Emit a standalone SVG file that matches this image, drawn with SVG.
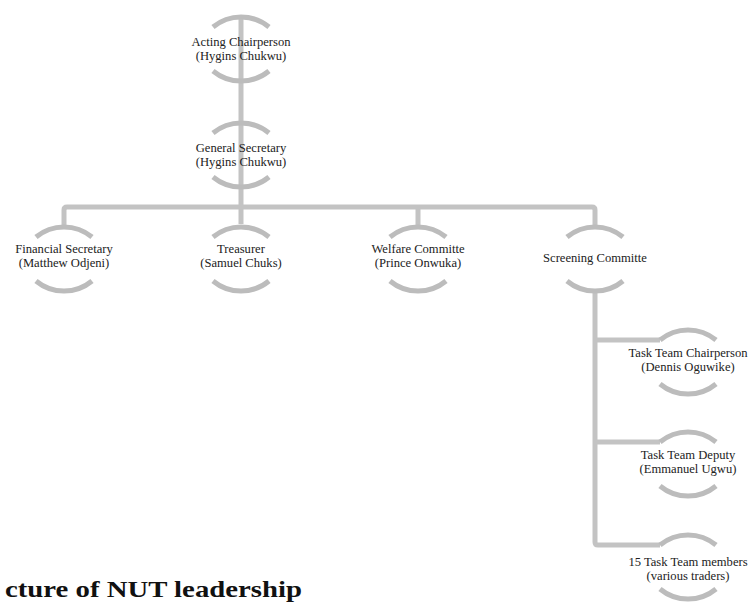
<svg xmlns="http://www.w3.org/2000/svg" width="754" height="603" viewBox="0 0 754 603">
  <defs>
    <style>
      .arc { fill: none; stroke: #bcbcbc; stroke-width: 5; }
      .conn { fill: none; stroke: #c3c3c3; stroke-width: 5; stroke-linejoin: round; }
      .lbl { font-family: "Liberation Serif", "Times New Roman", serif; font-size: 12.6px; fill: #222; text-anchor: middle; }
      .title { font-family: "Liberation Serif", "Times New Roman", serif; font-size: 23px; font-weight: bold; fill: #111; }
    </style>
    <path id="arcTop" d="M-28,-22 A44 44 0 0 1 28,-22"/>
    <path id="arcBot" d="M-28,22 A44 44 0 0 0 28,22"/>
  </defs>
  <rect width="754" height="603" fill="#ffffff"/>

  <g id="connectors">
    <path class="conn" d="M241,15 V224"/>
    <path class="conn" d="M64,228 V210 Q64,207 67,207 H592 Q595,207 595,210 V227"/>
    <path class="conn" d="M418,207 V227"/>
    <path class="conn" d="M595,290 V542 Q595,545 598,545 H660"/>
    <path class="conn" d="M595,340 H660"/>
    <path class="conn" d="M595,442 H660"/>
  </g>

  <g id="node-acting-chairperson" transform="translate(241,49)">
    <use href="#arcTop" class="arc"/>
    <use href="#arcBot" class="arc"/>
    <text class="lbl" x="0" y="-3.5">Acting Chairperson</text>
    <text class="lbl" x="0" y="10.5">(Hygins Chukwu)</text>
  </g>

  <g id="node-general-secretary" transform="translate(241,155)">
    <use href="#arcTop" class="arc"/>
    <use href="#arcBot" class="arc"/>
    <text class="lbl" x="0" y="-3.5">General Secretary</text>
    <text class="lbl" x="0" y="10.5">(Hygins Chukwu)</text>
  </g>

  <g id="node-financial-secretary" transform="translate(64,259)">
    <use href="#arcTop" class="arc"/>
    <use href="#arcBot" class="arc"/>
    <text class="lbl" x="0" y="-6.5">Financial Secretary</text>
    <text class="lbl" x="0" y="7.5">(Matthew Odjeni)</text>
  </g>

  <g id="node-treasurer" transform="translate(241,259)">
    <use href="#arcTop" class="arc"/>
    <use href="#arcBot" class="arc"/>
    <text class="lbl" x="0" y="-6.5">Treasurer</text>
    <text class="lbl" x="0" y="7.5">(Samuel Chuks)</text>
  </g>

  <g id="node-welfare-committe" transform="translate(418,259)">
    <use href="#arcTop" class="arc"/>
    <use href="#arcBot" class="arc"/>
    <text class="lbl" x="0" y="-6.5">Welfare Committe</text>
    <text class="lbl" x="0" y="7.5">(Prince Onwuka)</text>
  </g>

  <g id="node-screening-committe" transform="translate(595,259)">
    <use href="#arcTop" class="arc"/>
    <use href="#arcBot" class="arc"/>
    <text class="lbl" x="0" y="3">Screening Committe</text>
  </g>

  <g id="node-task-team-chairperson" transform="translate(688,362)">
    <use href="#arcTop" class="arc"/>
    <use href="#arcBot" class="arc"/>
    <text class="lbl" x="0" y="-5.5">Task Team Chairperson</text>
    <text class="lbl" x="0" y="8.5">(Dennis Oguwike)</text>
  </g>

  <g id="node-task-team-deputy" transform="translate(688,464)">
    <use href="#arcTop" class="arc"/>
    <use href="#arcBot" class="arc"/>
    <text class="lbl" x="0" y="-5.5">Task Team Deputy</text>
    <text class="lbl" x="0" y="8.5">(Emmanuel Ugwu)</text>
  </g>

  <g id="node-task-team-members" transform="translate(688,567)">
    <use href="#arcTop" class="arc"/>
    <use href="#arcBot" class="arc"/>
    <text class="lbl" x="0" y="-1.5">15 Task Team members</text>
    <text class="lbl" x="0" y="12.5">(various traders)</text>
  </g>

  <text class="title" x="5" y="597" textLength="297" lengthAdjust="spacingAndGlyphs">cture of NUT leadership</text>
</svg>
